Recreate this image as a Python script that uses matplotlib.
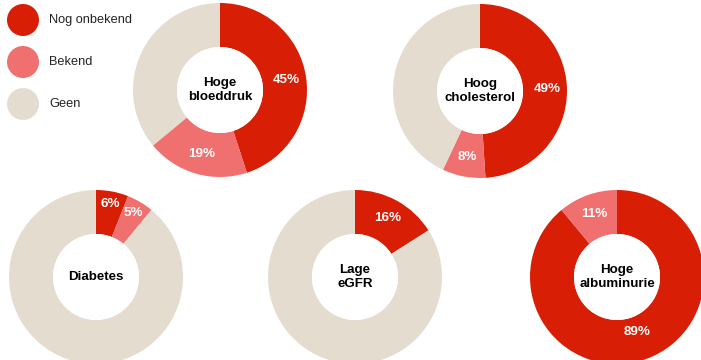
import matplotlib
matplotlib.use('Agg')
import matplotlib.pyplot as plt
from matplotlib.patches import Circle
import numpy as np

plt.rcParams['font.family'] = ['Liberation Sans', 'DejaVu Sans']

# share of each condition, in percent
categories = ["Nog onbekend", "Bekend", "Geen"]
titles = ["Hoge\nbloeddruk", "Hoog\ncholesterol", "Diabetes", "Lage\neGFR", "Hoge\nalbuminurie"]
nog_onbekend = [45, 49, 6, 16, 89]
bekend = [19, 8, 5, 0, 11]
geen = [36, 43, 89, 84, 0]

colors = ["#d81e05", "#f07070", "#e4ddcf"]

W, H = 701, 360
# donut centres in pixels (y measured from the top)
centers = [(220, 90), (480, 91), (96, 277), (355, 277), (617, 277)]
R = 87
RING = 44


def label_radius(v):
    # small slices get their label pushed outwards, big ones inwards
    if v < 8:
        return 0.85 * R
    if v > 60:
        return 0.67 * R
    return 0.77 * R


fig = plt.figure(figsize=(W / 100, H / 100), dpi=100)
ax = fig.add_axes([0, 0, 1, 1])

for i, (cx, cy) in enumerate(centers):
    vals = [nog_onbekend[i], bekend[i], geen[i]]
    c = (cx, H - cy)
    wedges, _ = ax.pie(vals, colors=colors, center=c, radius=R, startangle=90,
                       counterclock=False, frame=True,
                       wedgeprops=dict(width=RING, linewidth=0))
    ax.add_patch(Circle(c, R - RING, facecolor="white", edgecolor="none"))
    # percentage labels only for the two coloured groups
    for w, v in zip(wedges[:2], vals[:2]):
        if v <= 0:
            continue
        mid = np.deg2rad((w.theta1 + w.theta2) / 2)
        r = label_radius(v)
        ax.text(c[0] + r * np.cos(mid), c[1] + r * np.sin(mid), f"{v}%",
                ha="center", va="center", color="white", fontsize=9.6,
                fontweight="bold")
    ax.text(c[0], c[1], titles[i], ha="center", va="center", fontsize=9.6,
            fontweight="bold", color="black", linespacing=1.2)

# legend drawn as filled circles
for k, (name, col) in enumerate(zip(categories, colors)):
    y = H - (20 + 42 * k)
    ax.add_patch(Circle((23, y), 16, facecolor=col, edgecolor="none"))
    ax.text(49, y, name, ha="left", va="center", fontsize=9.2, color="#222222")

ax.set_xlim(0, W)
ax.set_ylim(0, H)
ax.set_aspect('equal')
ax.axis('off')

fig.savefig("out.png", dpi=100, facecolor="white")
